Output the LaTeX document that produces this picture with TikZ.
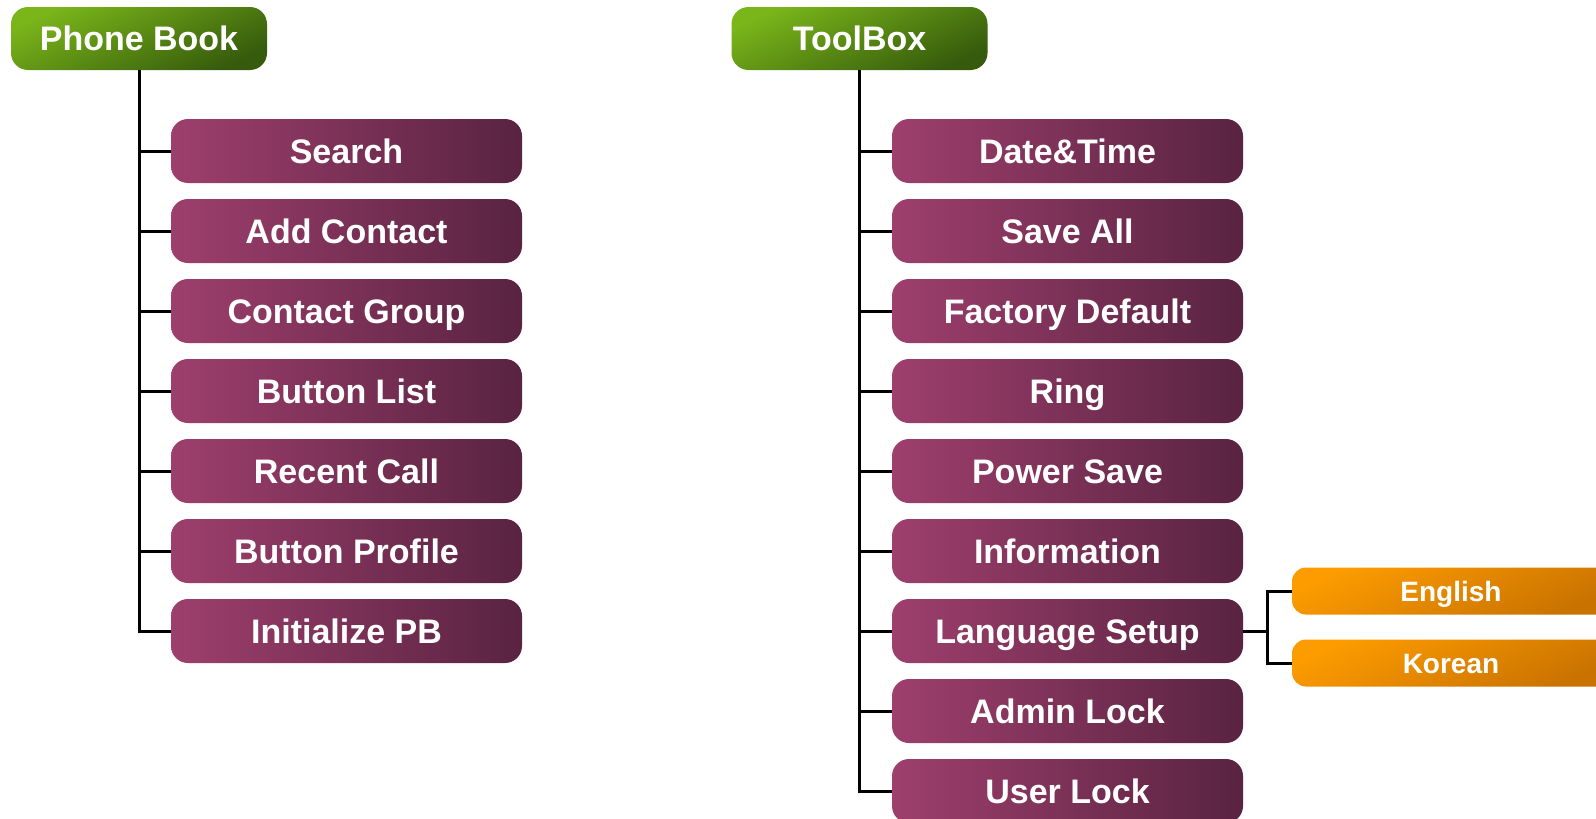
\documentclass[tikz,border=0pt]{standalone}
\usepackage{fontspec}
\setmainfont{Liberation Sans}
\usetikzlibrary{calc}
\definecolor{grnlight}{HTML}{7AB51A}
\definecolor{grndark}{HTML}{365B0C}
\definecolor{purlight}{HTML}{9E3F6D}
\definecolor{purdark}{HTML}{592341}
\definecolor{orglight}{HTML}{FD9C00}
\definecolor{orgdark}{HTML}{C97200}
\tikzset{
  menubox/.style={rounded corners=8.5pt,text=white,font=\fontsize{17}{20}\selectfont\bfseries,inner sep=0pt,text height=12.4pt,text depth=0pt},
  head/.style={menubox,minimum width=128pt,minimum height=31.5pt,top color=grnlight,bottom color=grndark,shading angle=25},
  item/.style={menubox,minimum width=175.5pt,minimum height=32pt,left color=purlight,right color=purdark},
  sub/.style={menubox,rounded corners=7pt,minimum width=159pt,minimum height=23.5pt,top color=orglight,bottom color=orgdark,shading angle=25,font=\fontsize{14}{17}\selectfont\bfseries,text height=10.2pt},
  tree/.style={line width=1.5pt}
}
\begin{document}
\begin{tikzpicture}[x=0.5pt,y=-0.5pt]
\useasboundingbox(0,0)rectangle(1596,819);
%headers
\node[head](pb)at(139,38.5){Phone Book};
\node[head](tb)at(859.5,38.5){ToolBox};
%phone book items
\node[item](search)at(346.5,151){Search};
\node[item](addc)at(346.5,231){Add Contact};
\node[item](cgroup)at(346.5,311){Contact Group};
\node[item](blist)at(346.5,391){Button List};
\node[item](rcall)at(346.5,471){Recent Call};
\node[item](bprof)at(346.5,551){Button Profile};
\node[item](initpb)at(346.5,631){Initialize PB};
%toolbox items
\node[item](dtime)at(1067.5,151){Date\&Time};
\node[item](saveall)at(1067.5,231){Save All};
\node[item](factory)at(1067.5,311){Factory Default};
\node[item](ring)at(1067.5,391){Ring};
\node[item](psave)at(1067.5,471){Power Save};
\node[item](info)at(1067.5,551){Information};
\node[item](lang)at(1067.5,631){Language Setup};
\node[item](alock)at(1067.5,711){Admin Lock};
\node[item](ulock)at(1067.5,791){User Lock};
%language items
\node[sub](eng)at(1451,591){English};
\node[sub](kor)at(1451,663){Korean};
%tree lines
\foreach \n in {search,addc,cgroup,blist,rcall,bprof,initpb}
  \draw[tree](pb.south)|-(\n.west);
\foreach \n in {dtime,saveall,factory,ring,psave,info,lang,alock,ulock}
  \draw[tree](tb.south)|-(\n.west);
\coordinate(lbr)at($(lang.east)+(12pt,0)$);
\draw[tree](lang.east)--(lbr)|-(eng.west);
\draw[tree](lbr)|-(kor.west);
\end{tikzpicture}
\end{document}
